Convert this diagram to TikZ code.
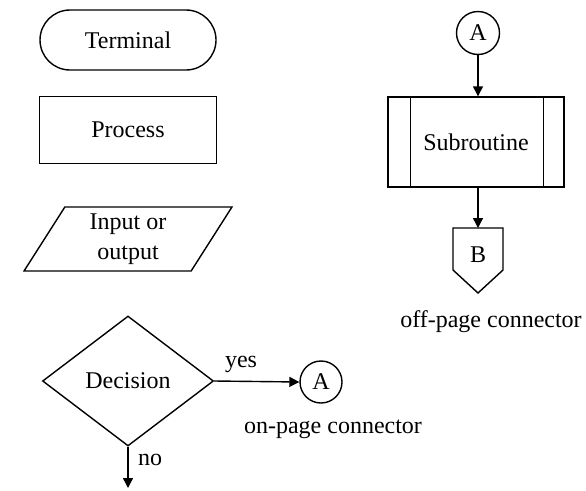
\documentclass[tikz,border=0pt]{standalone}
\usepackage{fontspec}
\setmainfont{Liberation Serif}
\usetikzlibrary{shapes.geometric,arrows.meta}
\begin{document}
\begin{tikzpicture}[x=1pt,y=-1pt,
  every node/.style={font=\fontsize{24}{30}\selectfont},
  shp/.style={draw,line width=1.4pt,inner sep=0pt},
  conn/.style={line width=1.4pt,-{Triangle[length=10pt,width=10pt]}},
  lbl/.style={inner sep=0pt,anchor=base}]
\useasboundingbox (0,0) rectangle (586,490);
% left column
\node[shp,rounded corners=30pt,minimum width=176pt,minimum height=60pt] (term) at (128,40) {Terminal};
\node[shp,minimum width=177pt,minimum height=67pt] (proc) at (128,130) {Process};
\node[shp,trapezium,trapezium stretches=true,trapezium left angle=64,trapezium right angle=116,
  minimum width=208pt,minimum height=64pt,align=center] (io) at (128,239) {Input or\\output};
\node[shp,diamond,minimum width=171pt,minimum height=130pt] (dec) at (128,381) {Decision};
\node[shp,circle,minimum size=42pt] (ca) at (321,382) {A};
\coordinate (nout) at (128,488);
\draw[conn] (dec.east) -- (ca.west);
\draw[conn] (dec.south) -- (nout);
\node[lbl] (yes) at (241,367) {yes};
\node[lbl] (no) at (150,465) {no};
\node[lbl] (onp) at (333,433) {on-page connector};
% right column
\node[shp,circle,minimum size=43pt] (cb) at (478,33) {A};
\node[shp,minimum width=176pt,minimum height=90pt] (sub) at (476,142) {Subroutine};
\draw[line width=1.4pt] ([xshift=23pt]sub.north west) -- ([xshift=23pt]sub.south west);
\draw[line width=1.4pt] ([xshift=-21pt]sub.north east) -- ([xshift=-21pt]sub.south east);
\node[lbl] (bb) at (478,262) {B};
\coordinate (btop) at (478,228);
\draw[line width=1.4pt,line join=miter] (453,228) -- (503,228) -- (503,270) -- (478,293) -- (453,270) -- cycle;
\draw[conn] (cb.south) -- (cb.south |- sub.north);
\draw[conn] (sub.south -| btop) -- (btop);
\node[lbl] (offp) at (491,327) {off-page connector};
\end{tikzpicture}
\end{document}
